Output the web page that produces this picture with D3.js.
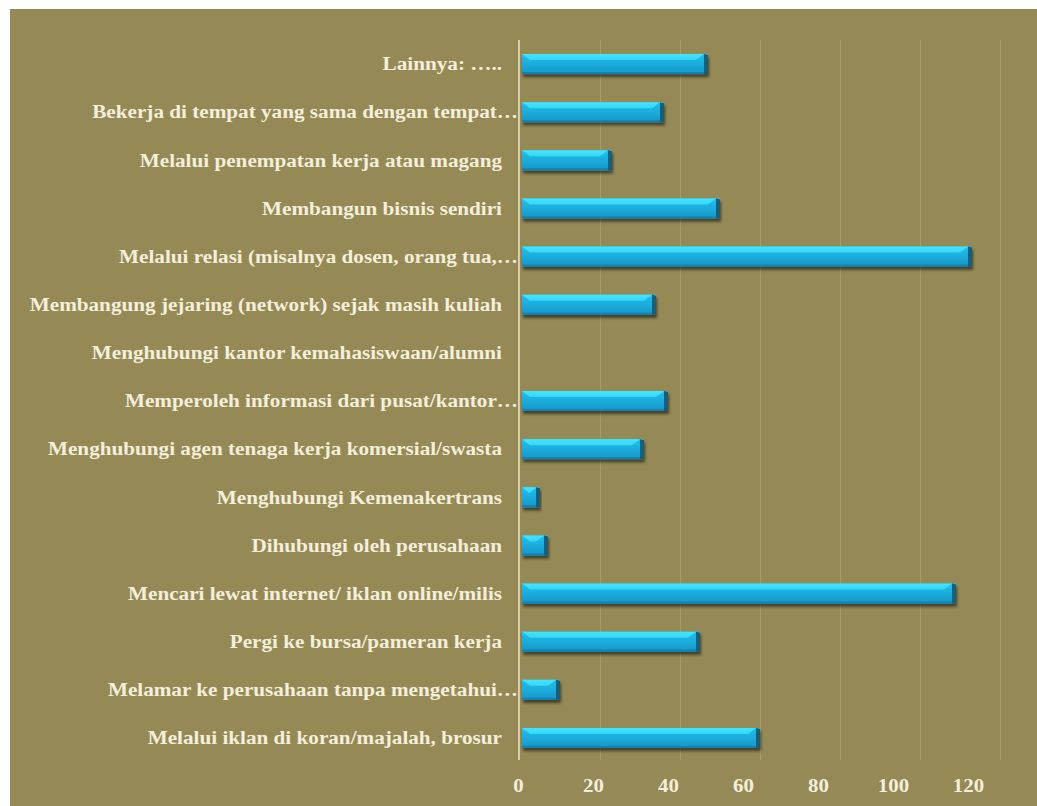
<!DOCTYPE html>
<html>
<head>
<meta charset="utf-8">
<script src="https://cdn.jsdelivr.net/npm/d3@7"></script>
<style>
  html, body { margin: 0; padding: 0; background: #ffffff; }
  svg { display: block; }
</style>
</head>
<body>
<svg id="chart" width="1037" height="806"></svg>
<script>
// ---- data (top to bottom as shown) ----
const categories = [
  "Lainnya: …..",
  "Bekerja di tempat yang sama dengan tempat…",
  "Melalui penempatan kerja atau magang",
  "Membangun bisnis sendiri",
  "Melalui relasi (misalnya dosen, orang tua,…",
  "Membangung jejaring (network) sejak masih kuliah",
  "Menghubungi kantor kemahasiswaan/alumni",
  "Memperoleh informasi dari pusat/kantor…",
  "Menghubungi agen tenaga kerja komersial/swasta",
  "Menghubungi Kemenakertrans",
  "Dihubungi oleh perusahaan",
  "Mencari lewat internet/ iklan online/milis",
  "Pergi ke bursa/pameran kerja",
  "Melamar ke perusahaan tanpa mengetahui…",
  "Melalui iklan di koran/majalah, brosur"
];
const values = [47, 36, 23, 50, 113, 34, 0, 37, 31, 5, 7, 109, 45, 10, 60];
const tickValues = [0, 20, 40, 60, 80, 100, 120];

// ---- layout ----
const svg = d3.select("#chart");
const W = 1037, H = 806;
const bg = "#958A55";
const textColor = "#F4EFDC";
const serif = "'Liberation Serif', 'Times New Roman', serif";

const defs = svg.append("defs");
const shadow = defs.append("filter").attr("id", "shadow")
  .attr("x", "-5%").attr("y", "-40%").attr("width", "115%").attr("height", "200%");
shadow.append("feGaussianBlur").attr("in", "SourceAlpha").attr("stdDeviation", 1.6).attr("result", "b");
shadow.append("feOffset").attr("in", "b").attr("dx", 1).attr("dy", 2.5).attr("result", "o");
shadow.append("feComponentTransfer").attr("in", "o").attr("result", "s")
  .append("feFuncA").attr("type", "linear").attr("slope", 0.55);
const merge = shadow.append("feMerge");
merge.append("feMergeNode").attr("in", "s");
merge.append("feMergeNode").attr("in", "SourceGraphic");

const bodyGrad = defs.append("linearGradient").attr("id", "body")
  .attr("x1", 0).attr("y1", 0).attr("x2", 0).attr("y2", 1);
bodyGrad.append("stop").attr("offset", "0%").attr("stop-color", "#22C0EE");
bodyGrad.append("stop").attr("offset", "100%").attr("stop-color", "#1597C9");

const topGrad = defs.append("linearGradient").attr("id", "topface")
  .attr("x1", 0).attr("y1", 0).attr("x2", 0).attr("y2", 1);
topGrad.append("stop").attr("offset", "0%").attr("stop-color", "#42E6FD");
topGrad.append("stop").attr("offset", "100%").attr("stop-color", "#36D6F7");

// background panel
svg.append("rect").attr("x", 10).attr("y", 9).attr("width", W - 10).attr("height", H - 9)
  .attr("fill", bg);

// scales: back wall (gridlines, bar ends) and front plane (tick labels)
const xBack = d3.scaleLinear().domain([0, 120]).range([520, 1000]);
const xFront = d3.scaleLinear().domain([0, 120]).range([518, 968]);
const y = d3.scaleBand().domain(categories).range([40, 762]).paddingInner(0.585).paddingOuter(0.2925);

// gridlines
const gridAxis = d3.axisBottom(xBack).tickValues(tickValues.filter(d => d > 0)).tickSize(-(760 - 40)).tickFormat("");
const grid = svg.append("g").attr("transform", "translate(0,760)").call(gridAxis);
grid.select(".domain").remove();
grid.selectAll(".tick line").attr("stroke", "#A59C6C").attr("stroke-width", 1);

// value axis tick labels (front plane)
const xAxis = d3.axisBottom(xFront).tickValues(tickValues).tickSize(0).tickPadding(0);
const xg = svg.append("g").attr("transform", "translate(0,779)").call(xAxis);
xg.select(".domain").remove();
xg.selectAll(".tick text")
  .attr("fill", textColor).attr("font-family", serif).attr("font-weight", "bold")
  .attr("font-size", 19).attr("dy", "0.71em")
  .attr("transform", "scale(1.1,1)");

// category axis line
svg.append("line").attr("x1", 519).attr("x2", 519).attr("y1", 40).attr("y2", 760)
  .attr("stroke", "#EDE5C6").attr("stroke-width", 1.5);

// category labels (text in the reference is horizontally stretched)
const labels = svg.append("g");
labels.selectAll("text").data(categories).join("text")
  .attr("transform", d => `translate(${d.endsWith("…") ? 518 : 502},${y(d) + y.bandwidth() / 2}) scale(1.145,1)`)
  .attr("dy", "0.34em")
  .attr("text-anchor", "end")
  .attr("fill", textColor)
  .attr("font-family", serif)
  .attr("font-weight", "bold")
  .attr("font-size", 18.5)
  .text(d => d);

// bars
const data = categories.map((c, i) => ({ c, v: values[i] }));
const bars = svg.append("g").selectAll("g").data(data.filter(d => d.v > 0)).join("g")
  .attr("filter", "url(#shadow)");
const x0 = xBack(0) + 2;
const bev = 6;
bars.append("rect")
  .attr("x", x0).attr("y", d => y(d.c))
  .attr("width", d => xBack(d.v) - x0).attr("height", y.bandwidth())
  .attr("fill", "url(#body)");
bars.append("path")
  .attr("d", d => {
    const t = y(d.c), x1 = xBack(d.v) - 4;
    const inset = Math.min(bev + 2, (x1 - x0) / 2);
    return `M${x0},${t}L${x1},${t}L${x1 - inset},${t + bev}L${x0 + inset},${t + bev}Z`;
  })
  .attr("fill", "url(#topface)");
bars.append("path")
  .attr("d", d => {
    const t = y(d.c), x1 = xBack(d.v);
    return `M${x1 - 4},${t}L${x1},${t + 1}L${x1},${t + y.bandwidth()}L${x1 - 4},${t + y.bandwidth()}Z`;
  })
  .attr("fill", "#155E79");
bars.append("rect")
  .attr("x", x0).attr("y", d => y(d.c) + y.bandwidth() - 2)
  .attr("width", d => xBack(d.v) - 4 - x0).attr("height", 2)
  .attr("fill", "#1380AE");
</script>
</body>
</html>
